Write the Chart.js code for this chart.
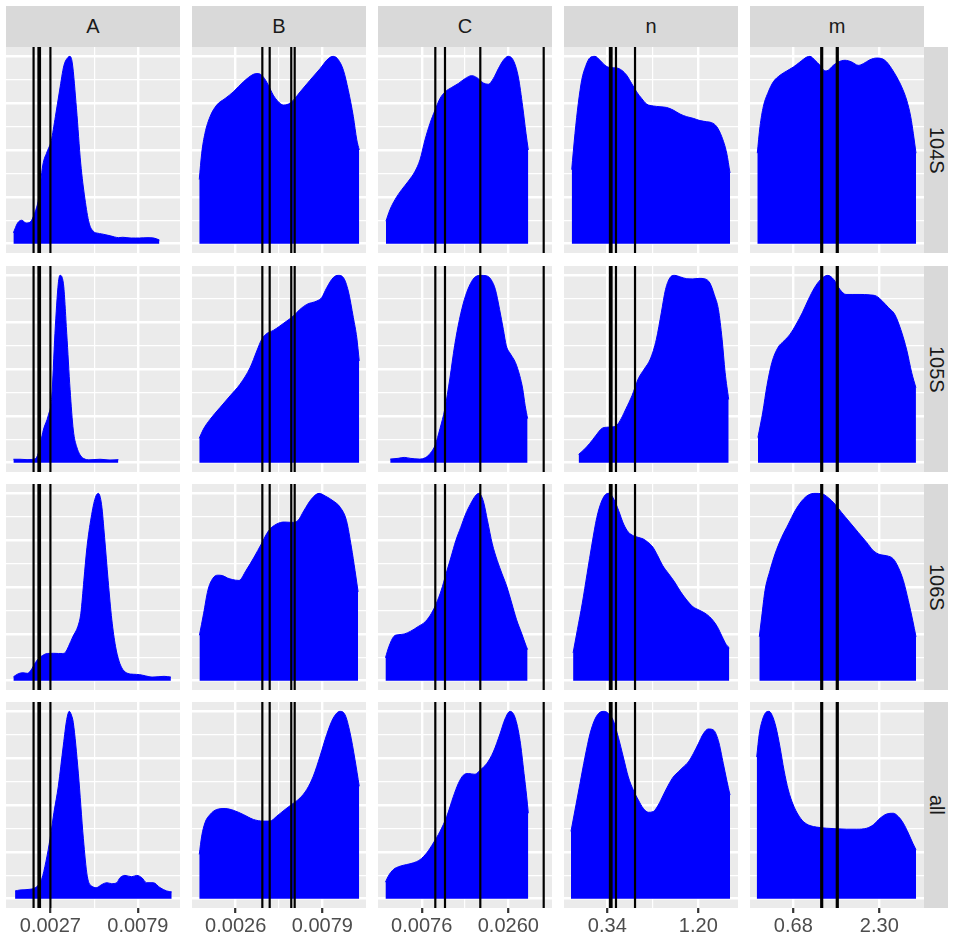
<!DOCTYPE html>
<html>
<head>
<meta charset="utf-8">
<script src="https://cdn.jsdelivr.net/npm/chart.js@4/dist/chart.umd.min.js"></script>
<style>
  html, body { margin: 0; padding: 0; background: #ffffff; }
  body { width: 953px; height: 936px; position: relative; overflow: hidden;
         font-family: "Liberation Sans", Arial, Helvetica, sans-serif; }
  .cell { position: absolute; }
  .cell canvas { display: block; }
  .strip-top, .strip-right { position: absolute; background: #D9D9D9; color: #1A1A1A;
         font-size: 20px; display: flex; align-items: center; justify-content: center; }
  .strip-right { writing-mode: vertical-rl; }
</style>
</head>
<body>
<script>
// ---- facet labels ----
const variables = ['A', 'B', 'C', 'n', 'm'];
const groups = ['104S', '105S', '106S', 'all'];

// ---- x ranges and breaks per variable ----
const rangeA = [0.000061, 0.010402];
const rangeB = [-0.000074, 0.010574];
const rangeC = [-0.001685, 0.035285];
const rangeN = [-0.06921, 1.57518];
const rangeM = [-0.13564, 3.142];

const breaksA = [0.0027, 0.0079];
const breaksB = [0.0026, 0.0079];
const breaksC = [0.0076, 0.0260];
const breaksN = [0.34, 1.20];
const breaksM = [0.68, 2.30];

const breakLabelsA = ['0.0027', '0.0079'];
const breakLabelsB = ['0.0026', '0.0079'];
const breakLabelsC = ['0.0076', '0.0260'];
const breakLabelsN = ['0.34', '1.20'];
const breakLabelsM = ['0.68', '2.30'];

// ---- reference values (vertical lines) ----
const cutsA = [0.0017, 0.00199, 0.00208, 0.0027];
const cutsB = [0.00423, 0.00468, 0.0060, 0.00621];
const cutsC = [0.01049, 0.01255, 0.02005, 0.03352];
const cutsN = [0.365, 0.38, 0.422, 0.602];
const cutsM = [1.206, 1.224, 1.499, 1.518];

// ---- scaled densities [x, density] ----
const densA104S = [[0.0005,0.058],[0.00075,0.11],[0.0010,0.125],[0.00125,0.11],[0.0015,0.115],[0.00175,0.16],[0.0020,0.24],[0.00225,0.42],[0.0025,0.49],[0.00275,0.55],[0.0030,0.68],[0.00325,0.82],[0.0035,0.95],[0.00375,0.995],[0.00386,1.0],[0.0040,0.965],[0.00425,0.72],[0.0045,0.43],[0.00475,0.24],[0.0050,0.11],[0.00525,0.066],[0.0055,0.056],[0.00575,0.052],[0.0060,0.047],[0.00625,0.042],[0.0065,0.036],[0.00675,0.032],[0.0070,0.034],[0.00725,0.032],[0.0075,0.030],[0.00775,0.030],[0.0080,0.030],[0.00825,0.031],[0.0085,0.032],[0.00875,0.031],[0.0090,0.026],[0.00918,0.019]];
const densA105S = [[0.0005,0.018],[0.00089,0.018],[0.00131,0.016],[0.00179,0.02],[0.00198,0.05],[0.00228,0.174],[0.00258,0.254],[0.00278,0.35],[0.00297,0.69],[0.00317,0.958],[0.00327,1.0],[0.00347,0.958],[0.00367,0.69],[0.00387,0.39],[0.00406,0.174],[0.00426,0.085],[0.00466,0.023],[0.00505,0.015],[0.00565,0.018],[0.00624,0.014],[0.00674,0.016]];
const densA106S = [[0.0005,0.02],[0.00079,0.037],[0.00107,0.042],[0.00133,0.039],[0.00151,0.051],[0.00169,0.078],[0.00194,0.113],[0.00223,0.134],[0.00252,0.145],[0.00288,0.146],[0.00317,0.145],[0.00342,0.145],[0.0036,0.152],[0.00378,0.183],[0.00404,0.236],[0.00433,0.289],[0.00451,0.36],[0.00469,0.536],[0.00487,0.71],[0.00512,0.87],[0.00537,0.977],[0.00555,1.0],[0.00574,0.94],[0.00592,0.765],[0.00613,0.536],[0.00635,0.325],[0.00657,0.183],[0.00678,0.104],[0.0070,0.06],[0.00729,0.039],[0.00765,0.034],[0.00801,0.032],[0.00837,0.025],[0.00874,0.019],[0.0091,0.021],[0.00946,0.023],[0.00986,0.019]];
const densAall = [[0.0006,0.041],[0.00089,0.046],[0.00149,0.05],[0.00189,0.064],[0.00218,0.103],[0.00244,0.2],[0.00268,0.32],[0.00291,0.46],[0.00317,0.6],[0.00347,0.82],[0.00367,0.956],[0.00382,1.0],[0.00395,0.98],[0.00406,0.94],[0.00436,0.67],[0.00466,0.32],[0.00489,0.12],[0.00515,0.067],[0.00545,0.059],[0.00575,0.075],[0.00605,0.085],[0.00634,0.08],[0.00664,0.085],[0.00684,0.112],[0.00713,0.124],[0.00753,0.117],[0.00783,0.124],[0.00813,0.112],[0.00842,0.085],[0.00882,0.085],[0.00921,0.059],[0.00961,0.041],[0.00991,0.036]];

const densB104S = [[0.00037,0.342],[0.00052,0.483],[0.00072,0.589],[0.00103,0.678],[0.00144,0.74],[0.00195,0.775],[0.00245,0.81],[0.00307,0.864],[0.00368,0.904],[0.00398,0.908],[0.00429,0.89],[0.0046,0.846],[0.0049,0.793],[0.00521,0.758],[0.00551,0.74],[0.00582,0.745],[0.00613,0.766],[0.00654,0.81],[0.00715,0.873],[0.00776,0.934],[0.00827,0.988],[0.00857,1.0],[0.00888,0.982],[0.00919,0.926],[0.00949,0.819],[0.0098,0.678],[0.01001,0.554],[0.01016,0.5]];
const densB105S = [[0.00037,0.13],[0.00062,0.178],[0.00103,0.231],[0.00164,0.294],[0.00225,0.356],[0.00286,0.418],[0.00348,0.507],[0.00389,0.596],[0.00419,0.658],[0.0045,0.689],[0.0049,0.706],[0.00531,0.73],[0.00572,0.756],[0.00613,0.783],[0.00654,0.819],[0.00695,0.845],[0.00756,0.863],[0.00786,0.881],[0.00817,0.934],[0.00857,0.988],[0.00888,1.0],[0.00919,0.988],[0.00949,0.916],[0.0098,0.774],[0.01001,0.667],[0.01016,0.543]];
const densB106S = [[0.00038,0.242],[0.00064,0.36],[0.0009,0.483],[0.00119,0.545],[0.00149,0.563],[0.00179,0.561],[0.00209,0.548],[0.00239,0.54],[0.0028,0.535],[0.00324,0.589],[0.00373,0.66],[0.00417,0.73],[0.00461,0.80],[0.0051,0.836],[0.00558,0.847],[0.00603,0.845],[0.0064,0.854],[0.00677,0.907],[0.00722,0.968],[0.0077,1.0],[0.00808,0.986],[0.00856,0.96],[0.00901,0.924],[0.00938,0.854],[0.00968,0.713],[0.0099,0.589],[0.01009,0.474]];
const densBall = [[0.00037,0.236],[0.00052,0.334],[0.00072,0.405],[0.00103,0.449],[0.00144,0.476],[0.00195,0.481],[0.00245,0.472],[0.00307,0.449],[0.00368,0.423],[0.00429,0.414],[0.0047,0.414],[0.00511,0.44],[0.00562,0.476],[0.00603,0.503],[0.00654,0.538],[0.00695,0.583],[0.00735,0.654],[0.00776,0.76],[0.00817,0.876],[0.00857,0.964],[0.00898,1.0],[0.00929,0.982],[0.0096,0.885],[0.0099,0.742],[0.01016,0.60]];

const densC104S = [[0.0,0.12],[0.00087,0.182],[0.00193,0.235],[0.00335,0.288],[0.00475,0.333],[0.00618,0.386],[0.00724,0.448],[0.0083,0.554],[0.00936,0.642],[0.01043,0.713],[0.01149,0.775],[0.01255,0.81],[0.01397,0.834],[0.01538,0.855],[0.0168,0.881],[0.01822,0.897],[0.01929,0.887],[0.02069,0.858],[0.02175,0.851],[0.02281,0.881],[0.02388,0.934],[0.02494,0.979],[0.026,1.0],[0.02706,0.979],[0.02813,0.89],[0.02906,0.731],[0.02976,0.589],[0.03025,0.50]];
const densC105S = [[0.00091,0.019],[0.00259,0.023],[0.00388,0.028],[0.00518,0.023],[0.00711,0.019],[0.00841,0.027],[0.00943,0.05],[0.01047,0.094],[0.01149,0.182],[0.01253,0.288],[0.01357,0.447],[0.01459,0.624],[0.01563,0.765],[0.01667,0.871],[0.01769,0.942],[0.01873,0.986],[0.02003,1.0],[0.0213,0.998],[0.02235,0.977],[0.02326,0.924],[0.02415,0.818],[0.02494,0.712],[0.02558,0.624],[0.02647,0.58],[0.02751,0.535],[0.02842,0.465],[0.02906,0.394],[0.02957,0.306],[0.0301,0.235]];
const densC106S = [[-0.0001,0.122],[0.00065,0.183],[0.00167,0.236],[0.00259,0.245],[0.00388,0.249],[0.00518,0.263],[0.00686,0.289],[0.00841,0.316],[0.00968,0.36],[0.01072,0.413],[0.01176,0.483],[0.01278,0.571],[0.01383,0.66],[0.01485,0.748],[0.01589,0.818],[0.01693,0.889],[0.01795,0.942],[0.01899,0.986],[0.01975,1.0],[0.02067,0.96],[0.02158,0.854],[0.0226,0.73],[0.02364,0.642],[0.02466,0.571],[0.0257,0.501],[0.02674,0.413],[0.02776,0.325],[0.02881,0.254],[0.02982,0.183],[0.0301,0.166]];
const densCall = [[-0.0001,0.088],[0.0005,0.12],[0.00157,0.155],[0.00299,0.173],[0.00441,0.182],[0.00582,0.191],[0.00724,0.208],[0.00866,0.244],[0.01007,0.297],[0.01149,0.359],[0.01291,0.438],[0.01431,0.544],[0.01538,0.615],[0.01644,0.659],[0.0175,0.668],[0.01893,0.664],[0.01999,0.686],[0.02141,0.721],[0.02281,0.783],[0.02424,0.88],[0.0253,0.959],[0.02636,1.0],[0.02742,0.968],[0.02849,0.845],[0.02934,0.668],[0.02991,0.544],[0.03025,0.456]];

const densN104S = [[0.0036,0.395],[0.0348,0.589],[0.0659,0.749],[0.0981,0.873],[0.1387,0.952],[0.1765,0.993],[0.2238,1.0],[0.271,0.979],[0.3183,0.952],[0.3655,0.94],[0.4288,0.938],[0.4761,0.926],[0.5233,0.899],[0.5706,0.855],[0.6178,0.81],[0.6651,0.775],[0.7123,0.745],[0.7747,0.735],[0.838,0.731],[0.9014,0.727],[0.9637,0.713],[1.0271,0.692],[1.0904,0.678],[1.1527,0.669],[1.2161,0.657],[1.2794,0.651],[1.3266,0.646],[1.3739,0.625],[1.4211,0.572],[1.4684,0.483],[1.4996,0.377]];
const densN105S = [[0.0688,0.044],[0.1151,0.067],[0.1727,0.102],[0.2294,0.143],[0.2871,0.182],[0.3334,0.189],[0.3901,0.191],[0.4307,0.20],[0.4714,0.235],[0.5167,0.288],[0.5744,0.359],[0.632,0.447],[0.6897,0.50],[0.7464,0.553],[0.804,0.659],[0.8503,0.80],[0.89,0.924],[0.9307,0.986],[0.976,1.0],[1.0337,0.991],[1.0913,0.982],[1.149,0.981],[1.2066,0.984],[1.2633,0.981],[1.3096,0.959],[1.3503,0.898],[1.39,0.818],[1.4249,0.659],[1.4533,0.482],[1.4873,0.337]];
const densN106S = [[0.0168,0.148],[0.0574,0.272],[0.1037,0.413],[0.1491,0.571],[0.1954,0.73],[0.2408,0.871],[0.2871,0.959],[0.3334,0.998],[0.3561,1.0],[0.4024,0.968],[0.4477,0.907],[0.494,0.836],[0.5404,0.792],[0.5857,0.774],[0.632,0.765],[0.6774,0.757],[0.7237,0.739],[0.77,0.713],[0.8154,0.668],[0.8617,0.616],[0.9193,0.571],[0.976,0.527],[1.0337,0.474],[1.0913,0.43],[1.149,0.395],[1.2066,0.377],[1.2633,0.36],[1.321,0.333],[1.3786,0.289],[1.4249,0.236],[1.4646,0.192],[1.493,0.175]];
const densNall = [[-0.0031,0.359],[0.0348,0.473],[0.082,0.615],[0.1293,0.756],[0.1765,0.88],[0.2238,0.959],[0.271,0.995],[0.3116,1.0],[0.3495,0.989],[0.3967,0.951],[0.444,0.862],[0.4912,0.756],[0.5385,0.65],[0.5857,0.58],[0.633,0.527],[0.6802,0.482],[0.7275,0.461],[0.7747,0.465],[0.822,0.5],[0.8692,0.553],[0.9165,0.606],[0.9637,0.65],[1.011,0.677],[1.0582,0.703],[1.1055,0.73],[1.1527,0.774],[1.2,0.827],[1.2472,0.88],[1.2945,0.906],[1.3418,0.901],[1.389,0.845],[1.4363,0.721],[1.4684,0.633],[1.4996,0.553]];

const densM104S = [[0.0019,0.483],[0.0527,0.625],[0.1149,0.731],[0.2091,0.81],[0.3033,0.864],[0.4295,0.899],[0.5557,0.922],[0.68,0.943],[0.8062,0.97],[0.9324,0.996],[0.9946,1.0],[1.0888,0.979],[1.183,0.952],[1.2771,0.922],[1.3393,0.926],[1.4335,0.952],[1.5277,0.97],[1.6539,0.979],[1.7801,0.97],[1.9044,0.952],[1.9986,0.961],[2.1248,0.982],[2.251,0.991],[2.3452,0.988],[2.4394,0.97],[2.5336,0.934],[2.6278,0.89],[2.7219,0.837],[2.8161,0.766],[2.8915,0.678],[2.9404,0.589],[2.9913,0.483]];
const densM105S = [[0.0132,0.134],[0.1055,0.27],[0.1846,0.412],[0.2769,0.535],[0.3918,0.615],[0.5048,0.65],[0.6197,0.686],[0.7346,0.739],[0.8495,0.80],[0.9644,0.871],[1.0775,0.933],[1.1924,0.977],[1.3299,1.0],[1.4448,0.977],[1.5597,0.924],[1.6727,0.898],[1.7876,0.898],[1.9364,0.898],[2.1078,0.896],[2.2454,0.889],[2.3603,0.862],[2.4752,0.827],[2.5901,0.792],[2.7031,0.712],[2.818,0.60],[2.9103,0.48],[2.9894,0.40]];
const densM106S = [[0.0395,0.234],[0.0847,0.34],[0.1469,0.481],[0.2411,0.588],[0.3353,0.676],[0.4615,0.765],[0.5858,0.835],[0.712,0.906],[0.8382,0.959],[0.9626,0.991],[1.0888,1.0],[1.215,0.998],[1.3393,0.977],[1.4655,0.942],[1.5917,0.897],[1.7481,0.844],[1.9044,0.791],[2.0627,0.738],[2.187,0.694],[2.3132,0.673],[2.4394,0.667],[2.5637,0.65],[2.6579,0.605],[2.7521,0.535],[2.8463,0.428],[2.9292,0.322],[2.9913,0.234]];
const densMall = [[-0.0094,0.756],[0.0395,0.88],[0.1036,0.959],[0.1657,0.995],[0.2223,1.0],[0.2844,0.977],[0.3541,0.915],[0.4295,0.809],[0.5048,0.686],[0.5858,0.58],[0.68,0.5],[0.7742,0.447],[0.8684,0.412],[0.9946,0.39],[1.1208,0.382],[1.3092,0.376],[1.4975,0.373],[1.6859,0.371],[1.8743,0.371],[2.0627,0.376],[2.187,0.394],[2.3132,0.429],[2.4394,0.452],[2.5637,0.456],[2.6579,0.438],[2.7521,0.403],[2.8463,0.35],[2.9292,0.297],[2.9913,0.261]];

// ---- lookup tables built from the arrays above ----
const ranges = [rangeA, rangeB, rangeC, rangeN, rangeM];
const breaks = [breaksA, breaksB, breaksC, breaksN, breaksM];
const breakLabels = [breakLabelsA, breakLabelsB, breakLabelsC, breakLabelsN, breakLabelsM];
const cuts = [cutsA, cutsB, cutsC, cutsN, cutsM];
const densities = [
  [densA104S, densA105S, densA106S, densAall],
  [densB104S, densB105S, densB106S, densBall],
  [densC104S, densC105S, densC106S, densCall],
  [densN104S, densN105S, densN106S, densNall],
  [densM104S, densM105S, densM106S, densMall]
];

// ---- layout ----
const PANEL_W = 174, PANEL_H = 206, AXIS_H = 28;
const colLeft = [6, 192, 378, 564, 750];
const rowTop = [47, 266, 484, 702];
const STRIP_TOP_Y = 6, STRIP_TOP_H = 41;
const STRIP_RIGHT_X = 924, STRIP_RIGHT_W = 24;
const FONT = '"Liberation Sans", Arial, Helvetica, sans-serif';
const Y_MIN = -0.05, Y_MAX = 1.05;
const yGrid = [0, 0.125, 0.25, 0.375, 0.5, 0.625, 0.75, 0.875, 1];

// grey panel background behind the grid
const panelBackground = {
  id: 'panelBackground',
  beforeDraw(chart) {
    const { ctx, chartArea: a } = chart;
    ctx.save();
    ctx.fillStyle = '#EBEBEB';
    ctx.fillRect(a.left, a.top, a.right - a.left, a.bottom - a.top);
    ctx.restore();
  }
};

function addStrip(cls, text, left, top, width, height) {
  const d = document.createElement('div');
  d.className = cls;
  d.textContent = text;
  Object.assign(d.style, { left: left + 'px', top: top + 'px', width: width + 'px', height: height + 'px' });
  document.body.appendChild(d);
}

function makePanel(ci, ri) {
  const isBottom = ri === groups.length - 1;
  const h = PANEL_H + (isBottom ? AXIS_H : 0);
  const wrap = document.createElement('div');
  wrap.className = 'cell';
  Object.assign(wrap.style, { left: colLeft[ci] + 'px', top: rowTop[ri] + 'px', width: PANEL_W + 'px', height: h + 'px' });
  const canvas = document.createElement('canvas');
  canvas.width = PANEL_W; canvas.height = h;
  canvas.style.width = PANEL_W + 'px'; canvas.style.height = h + 'px';
  wrap.appendChild(canvas);
  document.body.appendChild(wrap);

  const major = breaks[ci];
  const labels = breakLabels[ci];
  const [xmin, xmax] = ranges[ci];
  // minor gridlines halfway between the major breaks
  const minor = [];
  for (let i = 0; i < major.length - 1; i++) minor.push((major[i] + major[i + 1]) / 2);
  const xTicks = major.concat(minor).sort((a, b) => a - b);
  const isMajorX = v => major.includes(v);

  const datasets = cuts[ci].map(v => ({
    data: [{ x: v, y: Y_MIN }, { x: v, y: Y_MAX }],
    borderColor: '#000000', borderWidth: 2.2, pointRadius: 0, fill: false, order: 0
  }));
  datasets.push({
    data: densities[ci][ri].map(([x, y]) => ({ x, y })),
    borderColor: '#0000FF', backgroundColor: '#0000FF', borderWidth: 1,
    pointRadius: 0, fill: 'origin', cubicInterpolationMode: 'monotone', order: 1
  });

  new Chart(canvas, {
    type: 'line',
    data: { datasets },
    options: {
      responsive: false, animation: false, events: [],
      layout: { padding: 0, autoPadding: false },
      plugins: { legend: { display: false }, tooltip: { enabled: false } },
      scales: {
        x: {
          type: 'linear', min: xmin, max: xmax,
          afterBuildTicks: s => { s.ticks = xTicks.map(v => ({ value: v })); },
          afterFit: s => { s.height = isBottom ? AXIS_H : 0; },
          border: { display: false },
          grid: {
            color: '#FFFFFF',
            lineWidth: c => (c.tick && isMajorX(c.tick.value)) ? 2.4 : 1.2,
            drawTicks: isBottom, tickLength: 5, tickWidth: 2.2,
            tickColor: c => (c.tick && isMajorX(c.tick.value)) ? '#333333' : 'rgba(0,0,0,0)'
          },
          ticks: {
            display: isBottom, autoSkip: false, maxRotation: 0, padding: 1,
            color: '#4D4D4D', font: { family: FONT, size: 20 },
            callback: v => { const k = major.indexOf(v); return k >= 0 ? labels[k] : ''; }
          }
        },
        y: {
          type: 'linear', min: Y_MIN, max: Y_MAX,
          afterBuildTicks: s => { s.ticks = yGrid.map(v => ({ value: v })); },
          afterFit: s => { s.width = 0; },
          border: { display: false },
          grid: { color: '#FFFFFF', drawTicks: false,
                  lineWidth: c => (c.index % 2 === 0) ? 2.4 : 1.2 },
          ticks: { display: false }
        }
      }
    },
    plugins: [panelBackground]
  });
}

variables.forEach((v, ci) => addStrip('strip-top', v, colLeft[ci], STRIP_TOP_Y, PANEL_W, STRIP_TOP_H));
groups.forEach((g, ri) => addStrip('strip-right', g, STRIP_RIGHT_X, rowTop[ri], STRIP_RIGHT_W, PANEL_H));
for (let ci = 0; ci < variables.length; ci++) {
  for (let ri = 0; ri < groups.length; ri++) makePanel(ci, ri);
}
</script>
</body>
</html>
